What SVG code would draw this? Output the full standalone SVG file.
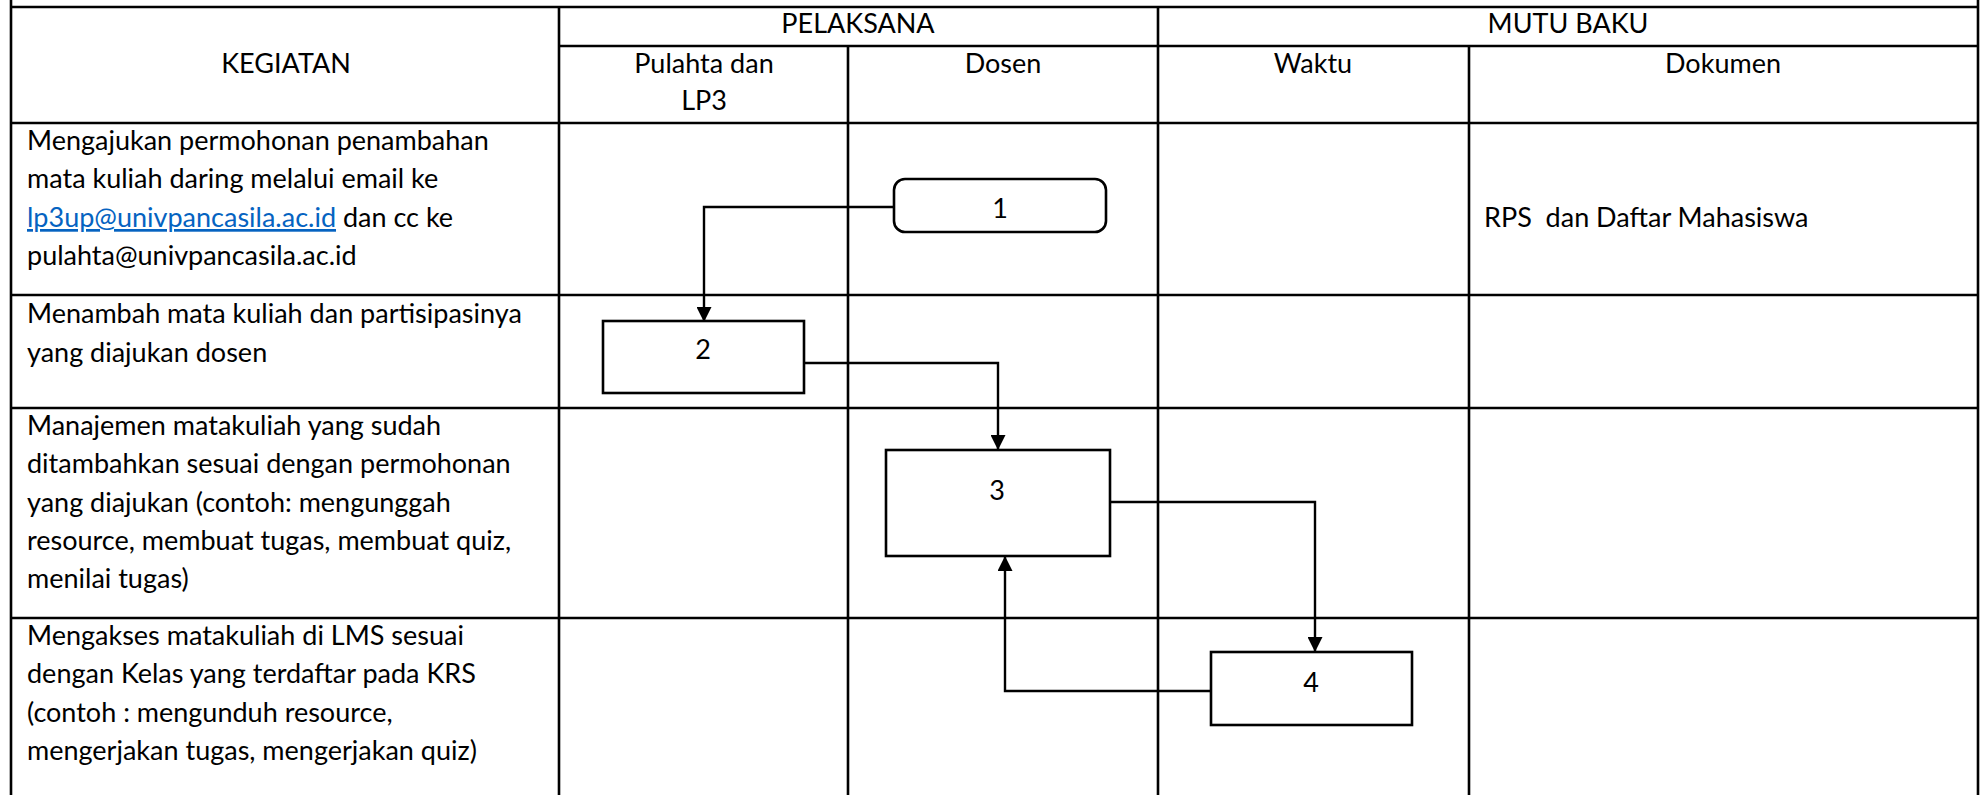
<svg xmlns="http://www.w3.org/2000/svg" width="1984" height="795" viewBox="0 0 1984 795">
<style>
.grid line{stroke:#000;stroke-width:2.6}
.t{font-family:Lato,"Liberation Sans",sans-serif;font-size:27px;fill:#000}
.c{text-anchor:middle}
.box{fill:#fff;stroke:#000;stroke-width:2.6}
.conn{fill:none;stroke:#000;stroke-width:2.4}
.link{fill:#0563C1;text-decoration:underline}
</style>
<defs>
<marker id="ah" viewBox="0 0 10 10" refX="10" refY="5" markerWidth="15" markerHeight="15" markerUnits="userSpaceOnUse" orient="auto">
<path d="M0,0 L10,5 L0,10 z" fill="#000"/>
</marker>
</defs>
<rect width="1984" height="795" fill="#fff"/>
<g id="table" class="grid">
<line x1="11" y1="0" x2="11" y2="795"/>
<line x1="1978" y1="0" x2="1978" y2="795"/>
<line x1="11" y1="7" x2="1978" y2="7"/>
<line x1="559" y1="46" x2="1978" y2="46"/>
<line x1="11" y1="123" x2="1978" y2="123"/>
<line x1="11" y1="295" x2="1978" y2="295"/>
<line x1="11" y1="408" x2="1978" y2="408"/>
<line x1="11" y1="618" x2="1978" y2="618"/>
<line x1="559" y1="7" x2="559" y2="795"/>
<line x1="1158" y1="7" x2="1158" y2="795"/>
<line x1="848" y1="46" x2="848" y2="795"/>
<line x1="1469" y1="46" x2="1469" y2="795"/>
</g>
<g id="headers" class="t">
<text class="c" x="286" y="73">KEGIATAN</text>
<text class="c" x="858" y="33">PELAKSANA</text>
<text class="c" x="1568" y="33">MUTU BAKU</text>
<text class="c" x="704" y="73">Pulahta dan</text>
<text class="c" x="704" y="110">LP3</text>
<text class="c" x="1003" y="73">Dosen</text>
<text class="c" x="1313" y="73">Waktu</text>
<text class="c" x="1723" y="73">Dokumen</text>
</g>
<g id="activities" class="t">
<text x="27" y="150">Mengajukan permohonan penambahan</text>
<text x="27" y="188">mata kuliah daring melalui email ke</text>
<text x="27" y="227"><tspan class="link">lp3up@univpancasila.ac.id</tspan> dan cc ke</text>
<text x="27" y="265">pulahta@univpancasila.ac.id</text>
<text x="27" y="323">Menambah mata kuliah dan partisipasinya</text>
<text x="27" y="362">yang diajukan dosen</text>
<text x="27" y="435">Manajemen matakuliah yang sudah</text>
<text x="27" y="473">ditambahkan sesuai dengan permohonan</text>
<text x="27" y="512">yang diajukan (contoh: mengunggah</text>
<text x="27" y="550">resource, membuat tugas, membuat quiz,</text>
<text x="27" y="588">menilai tugas)</text>
<text x="27" y="645">Mengakses matakuliah di LMS sesuai</text>
<text x="27" y="683">dengan Kelas yang terdaftar pada KRS</text>
<text x="27" y="722">(contoh : mengunduh resource,</text>
<text x="27" y="760">mengerjakan tugas, mengerjakan quiz)</text>
<text x="1484" y="227" xml:space="preserve">RPS  dan Daftar Mahasiswa</text>
</g>
<g id="connectors" class="conn">
<path d="M894,207 H704 V322" marker-end="url(#ah)"/>
<path d="M804,363 H998 V450" marker-end="url(#ah)"/>
<path d="M1110,502 H1315 V652" marker-end="url(#ah)"/>
<path d="M1211,691 H1005 V556" marker-end="url(#ah)"/>
</g>
<g id="node1">
<rect x="894" y="179" width="212" height="53" rx="11" class="box" stroke-width="3.6"/>
<text class="t c" x="1000" y="218" font-size="19">1</text>
</g>
<g id="node2">
<rect x="603" y="321" width="201" height="72" class="box"/>
<text class="t c" x="703" y="359">2</text>
</g>
<g id="node3">
<rect x="886" y="450" width="224" height="106" class="box"/>
<text class="t c" x="997" y="500">3</text>
</g>
<g id="node4">
<rect x="1211" y="652" width="201" height="73" class="box" stroke-width="4.5"/>
<text class="t c" x="1311" y="692">4</text>
</g>
</svg>
